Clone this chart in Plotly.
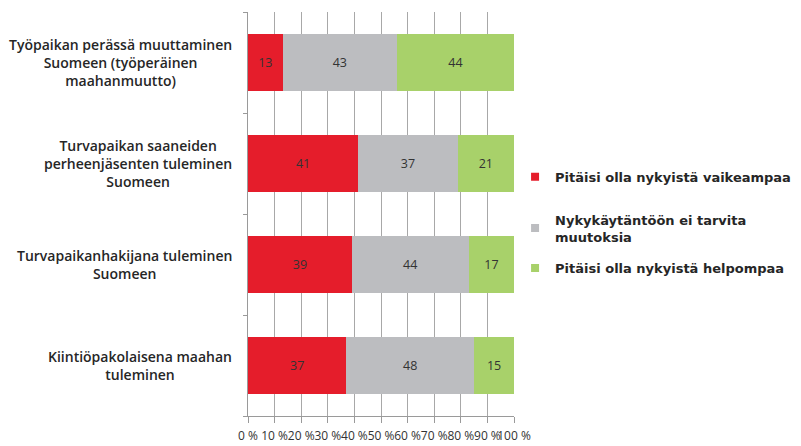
import plotly.graph_objects as go

categories = [
    "Työpaikan perässä muuttaminen<br>Suomeen (työperäinen<br>maahanmuutto)",
    "Turvapaikan saaneiden<br>perheenjäsenten tuleminen<br>Suomeen",
    "Turvapaikanhakijana tuleminen<br>Suomeen",
    "Kiintiöpakolaisena maahan<br>tuleminen",
]
cat_keys = ["c1", "c2", "c3", "c4"]
series_names = [
    "Pitäisi olla nykyistä vaikeampaa",
    "Nykykäytäntöön ei tarvita<br>muutoksia",
    "Pitäisi olla nykyistä helpompaa",
]
harder = [13, 41, 39, 37]
no_change = [43, 37, 44, 48]
easier = [44, 21, 17, 15]
colors = ["#e51d2b", "#bcbdc0", "#a8d16a"]
tick_vals = [0, 10, 20, 30, 40, 50, 60, 70, 80, 90, 100]
tick_text = ["0 %", "10 %", "20 %", "30 %", "40 %", "50 %", "60 %", "70 %", "80 %", "90 %", "100 %"]

legend_ids = ["legend", "legend2", "legend3"]
legend_y = [0.592, 0.465, 0.366]

fig = go.Figure()
for i, (name, vals) in enumerate(zip(series_names, [harder, no_change, easier])):
    fig.add_trace(go.Bar(
        y=cat_keys, x=vals, name=name, orientation="h",
        marker=dict(color=colors[i], line=dict(width=0)),
        text=[str(v) for v in vals], textposition="inside",
        insidetextanchor="middle",
        textfont=dict(family="Open Sans", size=12.5, color="#333333"),
        width=0.57, showlegend=False,
    ))
    # legend-only entry with a small square swatch
    fig.add_trace(go.Scatter(
        x=[None], y=[None], mode="markers", name=name,
        marker=dict(symbol="square", size=8, color=colors[i]),
        legend=legend_ids[i], showlegend=True,
    ))

for key, lab in zip(cat_keys, categories):
    fig.add_annotation(
        x=0, xref="paper", y=key, yref="y", text=lab, showarrow=False,
        xanchor="right", yanchor="middle", align="center", xshift=-14,
        font=dict(family="Open Sans", size=14, color="#262626", weight=600),
    )

legend_font = dict(family="DejaVu Sans", size=13, color="#262626", weight="bold")
layout_legends = {}
for lid, ly in zip(legend_ids, legend_y):
    layout_legends[lid] = dict(
        x=1.004, xanchor="left", y=ly, yanchor="middle",
        font=legend_font, itemwidth=30, bgcolor="rgba(0,0,0,0)",
        borderwidth=0,
    )

# the page body adds an 8px offset, so the figure is sized to the visible area
fig.update_layout(
    width=793, height=438,
    margin=dict(l=240, r=287, t=4, b=30, autoexpand=False),
    barmode="stack", barnorm="percent",
    paper_bgcolor="white", plot_bgcolor="white",
    showlegend=True,
    **layout_legends,
    xaxis=dict(
        range=[0, 100], tickvals=tick_vals, ticktext=tick_text, tickangle=0,
        showgrid=True, gridcolor="#a8a8a8", gridwidth=1,
        showline=True, linecolor="#9a9a9a", linewidth=1,
        ticks="outside", ticklen=6, tickcolor="#9a9a9a",
        ticklabelstandoff=3,
        tickfont=dict(family="Open Sans", size=12, color="#333333"),
        zeroline=False, automargin=False,
    ),
    yaxis=dict(
        categoryorder="array", categoryarray=cat_keys[::-1],
        showticklabels=False, showline=True, linecolor="#9a9a9a",
        ticks="outside", tickson="boundaries", ticklen=4, tickcolor="#9a9a9a",
        showgrid=False, zeroline=False, automargin=False,
    ),
)

fig.write_html("out.html")
